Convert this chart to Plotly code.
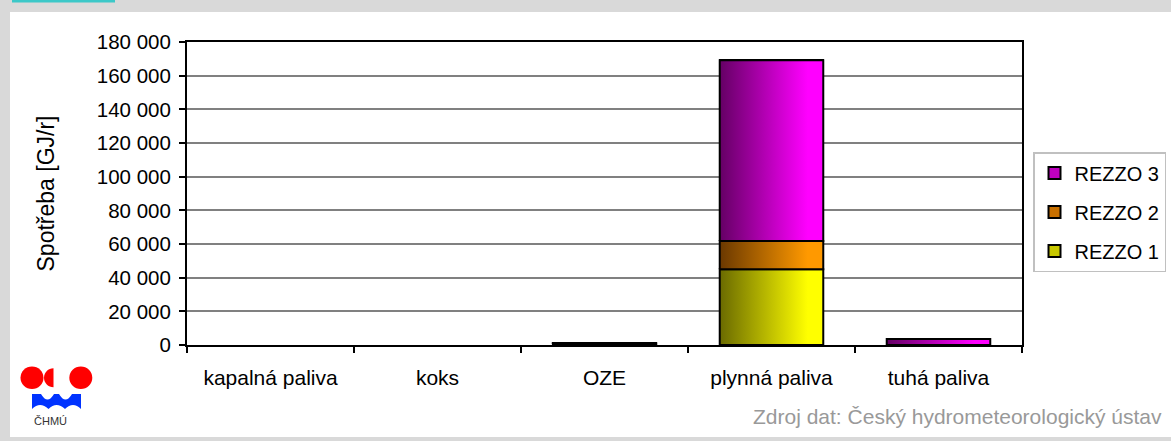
import plotly.graph_objects as go

# ---- data ----
categories = ["kapalná paliva", "koks", "OZE", "plynná paliva", "tuhá paliva"]
rezzo1 = [0, 0, 400, 45000, 0]
rezzo2 = [0, 0, 0, 16800, 0]
rezzo3 = [0, 0, 600, 107300, 3600]
series_names = ["REZZO 1", "REZZO 2", "REZZO 3"]
y_ticks = [0, 20000, 40000, 60000, 80000, 100000, 120000, 140000, 160000, 180000]

series = [rezzo1, rezzo2, rezzo3]
solid = ["#c8c800", "#c87000", "#c000c0"]
grads = [
    [[0, "#6a6a00"], [0.85, "#ffff00"], [1, "#ffff00"]],
    [[0, "#6a3800"], [0.85, "#ff9900"], [1, "#ff9900"]],
    [[0, "#640064"], [0.85, "#ff00ff"], [1, "#ff00ff"]],
]
BAR_W = 0.62
FONT = "Liberation Sans, Arial, sans-serif"

# layout geometry (pixels)
W, H = 1171, 441
ML, MR, MT, MB = 187, 149, 42, 96
PW, PH = W - ML - MR, H - MT - MB


def px(x):
    return (x - ML) / PW


def py(y):
    return (H - MB - y) / PH


fig = go.Figure()
xs = list(range(len(categories)))

# base bars (legend + hover); zero values are left out
for rank, (name, vals, col) in enumerate(zip(series_names, series, solid)):
    fig.add_trace(go.Bar(
        x=xs, y=[v if v else None for v in vals], name=name, width=BAR_W,
        marker=dict(color=col, line=dict(color="black", width=2)),
        legendgroup=name, legendrank=len(series) - rank,
        customdata=categories,
        hovertemplate="%{customdata}<br>" + name + ": %{y}<extra></extra>",
    ))

# gradient overlays derived from the same data
for i in xs:
    base = 0
    for vals, gs in zip(series, grads):
        v = vals[i]
        if v > 0:
            x0, x1 = i - BAR_W / 2, i + BAR_W / 2
            fig.add_trace(go.Scatter(
                x=[x0, x1, x1, x0, x0], y=[base, base, base + v, base + v, base],
                mode="lines", fill="toself",
                fillgradient=dict(type="horizontal", colorscale=gs),
                line=dict(color="black", width=2),
                showlegend=False, hoverinfo="skip",
            ))
        base += v

shapes = [
    # white panel
    dict(type="rect", xref="paper", yref="paper", layer="below",
         x0=px(10), x1=px(W + 5), y0=py(437), y1=py(12),
         fillcolor="white", line=dict(width=0)),
    # teal tab
    dict(type="rect", xref="paper", yref="paper", layer="below",
         x0=px(12), x1=px(115), y0=py(2.5), y1=py(-10),
         fillcolor="#3cc8c8", line=dict(width=0)),
    # logo: red circles
    dict(type="circle", xref="paper", yref="paper",
         x0=px(20.5), x1=px(43.5), y0=py(389), y1=py(366.5),
         fillcolor="#ff0000", line=dict(width=0)),
    dict(type="circle", xref="paper", yref="paper",
         x0=px(69.3), x1=px(92.3), y0=py(389), y1=py(366.5),
         fillcolor="#ff0000", line=dict(width=0)),
]

k = 0.5523
cx, cy, r = 53.5, 377.7, 9.5
half = (f"M {px(cx)},{py(cy - r)} "
        f"C {px(cx - k * r)},{py(cy - r)} {px(cx - r)},{py(cy - k * r)} {px(cx - r)},{py(cy)} "
        f"C {px(cx - r)},{py(cy + k * r)} {px(cx - k * r)},{py(cy + r)} {px(cx)},{py(cy + r)} Z")
shapes.append(dict(type="path", xref="paper", yref="paper", path=half,
                   fillcolor="#ff0000", line=dict(width=0)))

wave = (f"M {px(32)},{py(394)} "
        f"L {px(41)},{py(394)} "
        f"Q {px(47.5)},{py(405)} {px(54)},{py(394)} "
        f"L {px(59)},{py(394)} "
        f"Q {px(65.5)},{py(405)} {px(72)},{py(394)} "
        f"L {px(81)},{py(394)} "
        f"L {px(81)},{py(409)} "
        f"Q {px(73)},{py(401)} {px(65)},{py(409)} "
        f"Q {px(56.5)},{py(401)} {px(48.5)},{py(409)} "
        f"Q {px(40)},{py(401)} {px(32)},{py(409)} Z")
shapes.append(dict(type="path", xref="paper", yref="paper", path=wave,
                   fillcolor="#0033ff", line=dict(width=0)))

annotations = [
    dict(text="ČHMÚ", xref="paper", yref="paper", x=px(50), y=py(421),
         xanchor="center", yanchor="middle", showarrow=False,
         font=dict(family=FONT, size=11, color="#333333")),
    dict(text="Zdroj dat: Český hydrometeorologický ústav", xref="paper", yref="paper",
         x=px(1164), y=py(416), xanchor="right", yanchor="middle", showarrow=False,
         font=dict(family=FONT, size=21, color="#999999")),
]

fig.update_layout(
    width=W, height=H,
    margin=dict(l=ML, r=MR, t=MT, b=MB, pad=0, autoexpand=False),
    paper_bgcolor="#d9d9d9",
    plot_bgcolor="#c0c0c0",
    barmode="stack",
    separators=", ",
    font=dict(family=FONT, size=20.5, color="black"),
    shapes=shapes,
    annotations=annotations,
    showlegend=True,
    legend=dict(
        xref="container", yref="container",
        x=1033 / W, y=1 - 152 / H, xanchor="left", yanchor="top",
        bgcolor="white", bordercolor="#c0c0c0", borderwidth=1.5,
        traceorder="grouped", tracegroupgap=10,
        itemwidth=30,
        font=dict(family=FONT, size=20, color="black"),
    ),
    xaxis=dict(
        range=[-0.5, len(categories) - 0.5],
        tickmode="array", tickvals=xs, ticktext=categories,
        ticks="", showgrid=False, zeroline=False,
        showline=True, linecolor="black", linewidth=2, mirror=True,
        ticklabelstandoff=13,
        tickfont=dict(family=FONT, size=21),
        minor=dict(tickmode="array", tickvals=[i - 0.5 for i in range(len(categories) + 1)],
                   ticks="outside", ticklen=6, tickwidth=1.5, tickcolor="black", showgrid=False),
        fixedrange=True,
    ),
    yaxis=dict(
        range=[0, 180000],
        tickmode="array", tickvals=y_ticks, tickformat=",d",
        ticks="outside", ticklen=6, tickwidth=1.5, tickcolor="black",
        showgrid=True, gridcolor="#808080", gridwidth=1.5,
        zeroline=False,
        showline=True, linecolor="black", linewidth=2, mirror=True,
        ticklabelstandoff=4,
        title=dict(text="Spotřeba [GJ/r]", standoff=36, font=dict(family=FONT, size=23)),
        fixedrange=True,
    ),
)

fig.write_html("out.html", config={"displayModeBar": False},
               post_script="document.body.style.margin='0';")
